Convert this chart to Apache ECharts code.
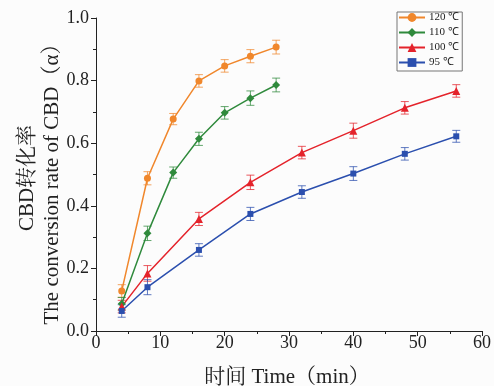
<!DOCTYPE html>
<html><head><meta charset="utf-8">
<script src="https://cdn.jsdelivr.net/npm/echarts@6/dist/echarts.min.js"></script>
<style>html,body{margin:0;padding:0;background:#fcfcfc}#c{width:494px;height:386px}</style>
</head><body><div id="c"></div>
<script>
const seriesNames = ['120 ℃', '110 ℃', '100 ℃', '95 ℃'];
const timesShort = [4, 8, 12, 16, 20, 24, 28];
const timesLong = [4, 8, 16, 24, 32, 40, 48, 56];
const a120 = [0.128, 0.488, 0.677, 0.799, 0.847, 0.878, 0.907];
const a110 = [0.087, 0.312, 0.506, 0.614, 0.697, 0.744, 0.786];
const a100 = [0.078, 0.184, 0.358, 0.475, 0.570, 0.640, 0.713, 0.767];
const a95  = [0.064, 0.140, 0.259, 0.374, 0.444, 0.503, 0.566, 0.622];
const e120 = [0.020, 0.021, 0.018, 0.020, 0.020, 0.021, 0.022];
const e110 = [0.020, 0.023, 0.018, 0.021, 0.020, 0.023, 0.022];
const e100 = [0.020, 0.025, 0.021, 0.023, 0.020, 0.024, 0.020, 0.020];
const e95  = [0.020, 0.024, 0.020, 0.021, 0.020, 0.022, 0.020, 0.019];
const xTicks = [0, 10, 20, 30, 40, 50, 60];
const yTicks = [0.0, 0.2, 0.4, 0.6, 0.8, 1.0];

const colors = ['#f0872c', '#2f8a3c', '#e4232b', '#2b4fae'];
const symbols = ['circle', 'diamond', 'triangle', 'rect'];
const symSizes = [7, 8, 8, 6];
const groups = [
  [timesShort, a120, e120],
  [timesShort, a110, e110],
  [timesLong, a100, e100],
  [timesLong, a95, e95]
];
const FONT = '"Liberation Serif", "Times New Roman", serif';
const TFONT = '"Liberation Serif", "Noto Serif CJK SC", "Noto Sans CJK SC", serif';

const series = [];
groups.forEach((g, i) => {
  const pts = g[0].map((t, k) => [t, g[1][k]]);
  const errs = g[0].map((t, k) => [t, g[1][k] - g[2][k], g[1][k] + g[2][k]]);
  series.push({
    type: 'custom', name: seriesNames[i] + '_err', silent: true, z: 1,
    data: errs,
    renderItem: function (params, api) {
      const x = api.value(0);
      const lo = api.coord([x, api.value(1)]);
      const hi = api.coord([x, api.value(2)]);
      const w = 4;
      const st = { stroke: colors[i], lineWidth: 1, opacity: 0.75 };
      return { type: 'group', children: [
        { type: 'line', shape: { x1: lo[0], y1: lo[1], x2: hi[0], y2: hi[1] }, style: st },
        { type: 'line', shape: { x1: lo[0] - w, y1: lo[1], x2: lo[0] + w, y2: lo[1] }, style: st },
        { type: 'line', shape: { x1: hi[0] - w, y1: hi[1], x2: hi[0] + w, y2: hi[1] }, style: st }
      ]};
    }
  });
  series.push({
    type: 'line', name: seriesNames[i], data: pts, z: 2,
    symbol: symbols[i], symbolSize: symSizes[i], showAllSymbol: true,
    lineStyle: { color: colors[i], width: 1.5 },
    itemStyle: { color: colors[i] },
    animation: false
  });
});

const chart = echarts.init(document.getElementById('c'));
chart.setOption({
  backgroundColor: '#fcfcfc',
  animation: false,
  grid: { left: 96, right: 9, top: 18, bottom: 55 },
  legend: {
    data: seriesNames,
    orient: 'vertical', left: 397, top: 12,
    itemWidth: 26, itemHeight: 11, itemGap: 4,
    padding: [0, 3, 3, 1],
    borderColor: '#777', borderWidth: 1,
    textStyle: { fontFamily: FONT, fontSize: 11, color: '#222', padding: [0, 0, 0, -1] }
  },
  xAxis: {
    type: 'value', min: 0, max: 60, interval: 10,
    axisLine: { lineStyle: { color: '#222', width: 1 } },
    axisTick: { length: 5, lineStyle: { color: '#222' } },
    minorTick: { show: true, splitNumber: 2, length: 3, lineStyle: { color: '#222' } },
    splitLine: { show: false },
    axisLabel: { fontFamily: FONT, fontSize: 18, color: '#222', margin: 3,
      formatter: v => xTicks.includes(v) ? String(v) : '' }
  },
  yAxis: {
    type: 'value', min: 0, max: 1, interval: 0.2,
    axisLine: { show: true, lineStyle: { color: '#222', width: 1 } },
    axisTick: { show: true, length: 5, lineStyle: { color: '#222' } },
    minorTick: { show: true, splitNumber: 2, length: 3, lineStyle: { color: '#222' } },
    splitLine: { show: false },
    axisLabel: { fontFamily: FONT, fontSize: 18, color: '#222', margin: 7,
      formatter: v => { const t = yTicks.find(y => Math.abs(y - v) < 1e-9); return t === undefined ? '' : t.toFixed(1); } }
  },
  graphic: [
    { type: 'text', silent: true, x: 27, y: 178, rotation: Math.PI / 2,
      style: { text: 'CBD转化率', font: '21px ' + TFONT, fill: '#222',
        textAlign: 'center', textVerticalAlign: 'middle' } },
    { type: 'text', silent: true, x: 52, y: 179, rotation: Math.PI / 2,
      style: { text: 'The conversion rate of CBD（α）', font: '21px ' + TFONT, fill: '#222',
        textAlign: 'center', textVerticalAlign: 'middle' } },
    { type: 'text', silent: true, x: 287, y: 377,
      style: { text: '时间 Time（min）', font: '21px ' + TFONT, fill: '#222',
        textAlign: 'center', textVerticalAlign: 'middle' } }
  ],
  series: series
});
</script></body></html>
